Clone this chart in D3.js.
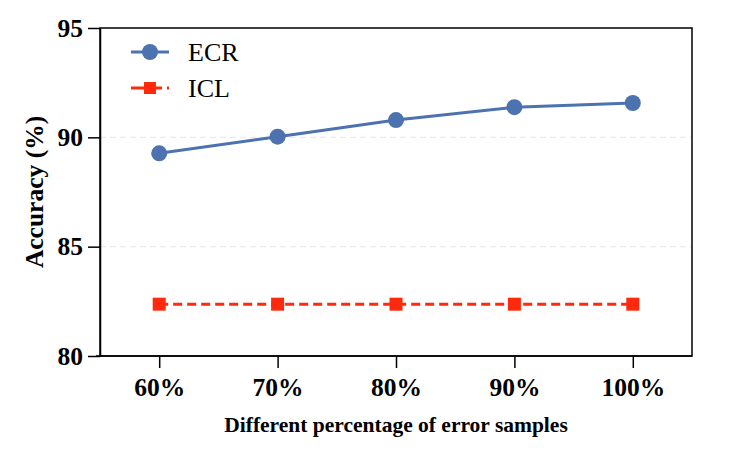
<!DOCTYPE html>
<html>
<head>
<meta charset="utf-8">
<script src="https://cdn.jsdelivr.net/npm/d3@7"></script>
<style>
  body { margin: 0; background: #fff; }
  svg { font-family: "Liberation Serif", "Times New Roman", serif; }
  .axis text { font-family: "Liberation Serif", "Times New Roman", serif; font-size: 25.5px; font-weight: bold; fill: #000; }
  .axis path, .axis line { stroke: #000; stroke-width: 1.5; }
</style>
</head>
<body>
<svg width="747" height="473"></svg>
<script>
// **** data ****
var categories = ["60%", "70%", "80%", "90%", "100%"];
var ecrValues = [89.27, 90.03, 90.79, 91.38, 91.57];
var iclValues = [82.37, 82.37, 82.37, 82.37, 82.37];
var yTicks = [80, 85, 90, 95];

// **** scales and axes ****
var plotLeft = 100, plotRight = 692, plotTop = 28, plotBottom = 356;

var xScale = d3.scalePoint()
    .domain(categories).range([plotLeft, plotRight]).padding(0.5);

var yScale = d3.scaleLinear()
    .domain([80, 95]).range([plotBottom, plotTop]);

var svg = d3.select('svg');

// grid lines at the inner ticks
svg.append('g').selectAll('line.grid')
    .data(yTicks.filter(function(d) { return d > 80 && d < 95; }))
    .enter().append('line')
    .attr('class', 'grid')
    .attr('x1', plotLeft).attr('x2', plotRight)
    .attr('y1', function(d) { return yScale(d); })
    .attr('y2', function(d) { return yScale(d); })
    .attr('stroke', '#e6e6e6')
    .attr('stroke-width', 1)
    .attr('stroke-dasharray', '6,4');

// frame
svg.append('rect')
    .attr('x', plotLeft).attr('y', plotTop)
    .attr('width', plotRight - plotLeft).attr('height', plotBottom - plotTop)
    .attr('fill', 'none').attr('stroke', '#000').attr('stroke-width', 1.5);

svg.append('g').attr('class', 'x axis')
    .attr('transform', 'translate(0,' + plotBottom + ')')
    .call(d3.axisBottom(xScale).tickSize(12).tickPadding(10).tickSizeOuter(0))
    .call(function(g) { g.select('.domain').attr('d', 'M' + (plotLeft - 4) + ',0H' + plotRight); });

svg.append('g').attr('class', 'y axis')
    .attr('transform', 'translate(' + plotLeft + ',0)')
    .call(d3.axisLeft(yScale).tickValues(yTicks).tickSize(12).tickPadding(5).tickSizeOuter(0));

// axis labels
svg.append('text')
    .attr('text-anchor', 'middle')
    .attr('x', 396).attr('y', 432)
    .attr('font-size', 21.5).attr('font-weight', 'bold')
    .text('Different percentage of error samples');

svg.append('text')
    .attr('text-anchor', 'middle')
    .attr('transform', 'translate(43,' + ((plotTop + plotBottom) / 2) + ') rotate(-90)')
    .attr('font-size', 25.5).attr('font-weight', 'bold')
    .text('Accuracy (%)');

// **** series ****
var ecrColor = '#4c72b0', iclColor = '#ff2a0d';

var line = d3.line()
    .x(function(d, i) { return xScale(categories[i]); })
    .y(function(d) { return yScale(d); });

svg.append('path').datum(iclValues)
    .attr('d', line).attr('fill', 'none')
    .attr('stroke', iclColor).attr('stroke-width', 3)
    .attr('stroke-dasharray', '9,5');

svg.selectAll('rect.icl')
    .data(iclValues).enter().append('rect')
    .attr('class', 'icl')
    .attr('x', function(d, i) { return xScale(categories[i]) - 6.5; })
    .attr('y', function(d) { return yScale(d) - 6.5; })
    .attr('width', 13).attr('height', 13)
    .attr('fill', iclColor);

svg.append('path').datum(ecrValues)
    .attr('d', line).attr('fill', 'none')
    .attr('stroke', ecrColor).attr('stroke-width', 3);

svg.selectAll('circle.ecr')
    .data(ecrValues).enter().append('circle')
    .attr('class', 'ecr')
    .attr('cx', function(d, i) { return xScale(categories[i]); })
    .attr('cy', function(d) { return yScale(d); })
    .attr('r', 8)
    .attr('fill', ecrColor);

// **** legend ****
var legend = svg.append('g').attr('transform', 'translate(131,52)');

legend.append('line').attr('x1', 0).attr('x2', 38).attr('y1', 0).attr('y2', 0)
    .attr('stroke', ecrColor).attr('stroke-width', 3);
legend.append('circle').attr('cx', 19).attr('cy', 0).attr('r', 8).attr('fill', ecrColor);
legend.append('text').attr('x', 57).attr('y', 9).attr('font-size', 26).text('ECR');

legend.append('line').attr('x1', 0).attr('x2', 38).attr('y1', 36).attr('y2', 36)
    .attr('stroke', iclColor).attr('stroke-width', 3).attr('stroke-dasharray', '13,5');
legend.append('rect').attr('x', 13).attr('y', 30).attr('width', 12).attr('height', 12).attr('fill', iclColor);
legend.append('text').attr('x', 57).attr('y', 45).attr('font-size', 26).text('ICL');
</script>
</body>
</html>
